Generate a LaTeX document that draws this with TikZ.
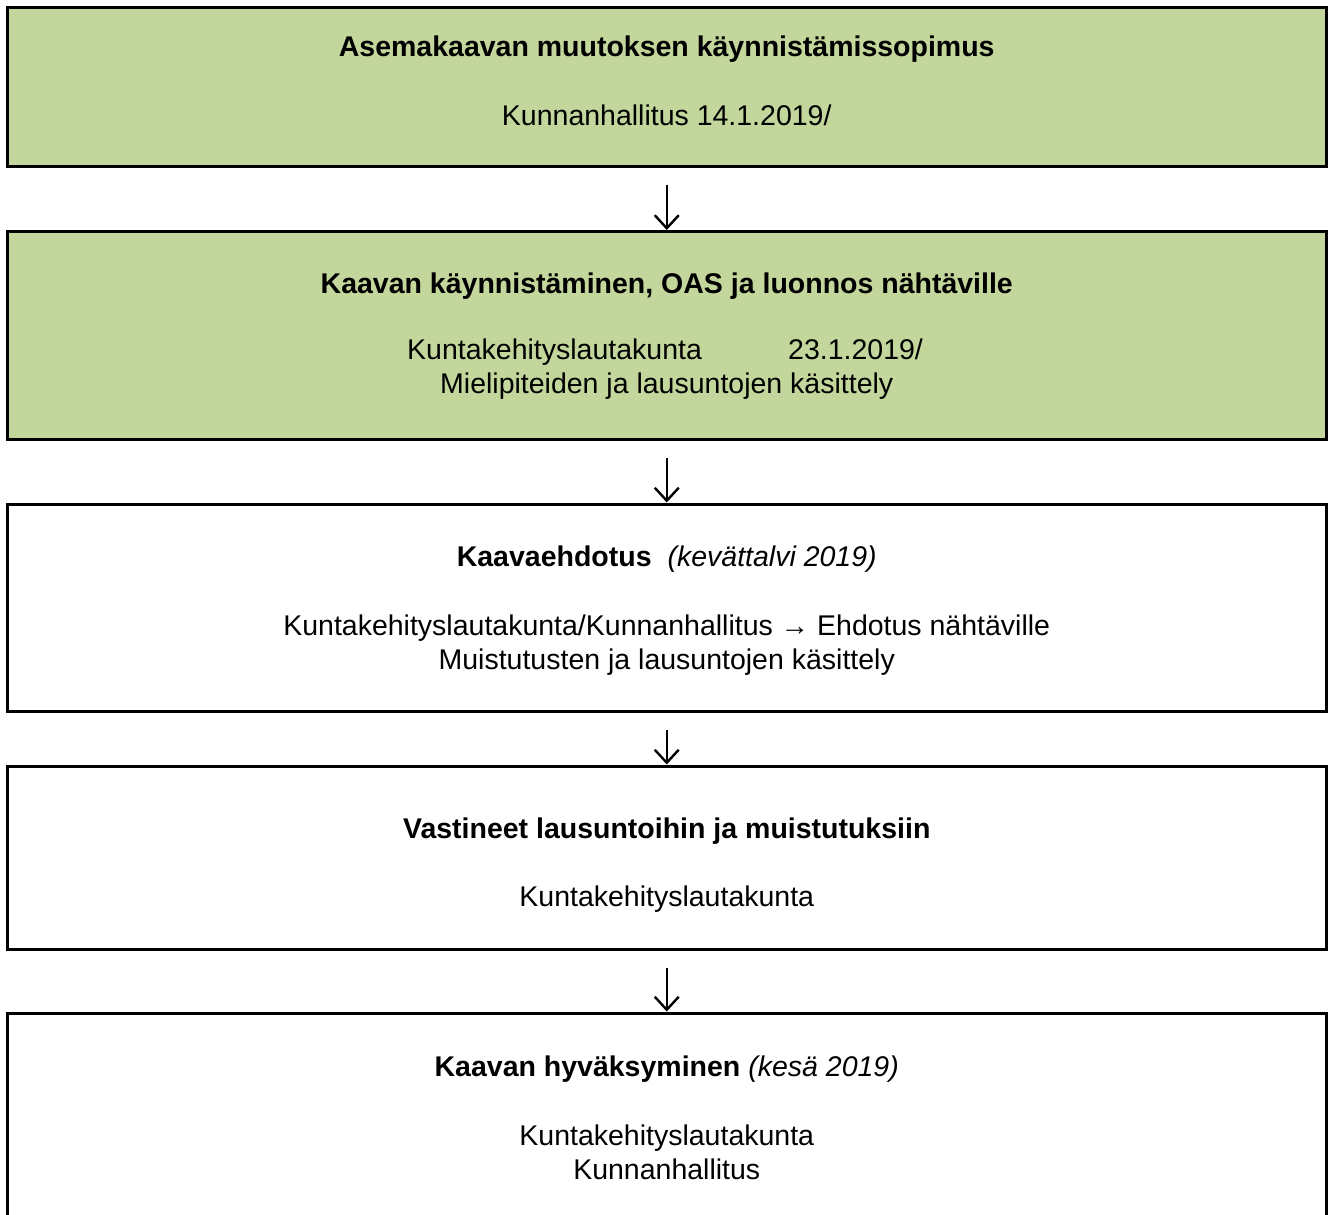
\documentclass[tikz,border=0pt]{standalone}
\usepackage{fontspec}
\setmainfont{Liberation Sans}
\usetikzlibrary{arrows.meta}
\definecolor{boxgreen}{HTML}{C3D69B}
\tikzset{
  stagebox/.style={draw=black, line width=3pt, minimum width=1318.5pt, inner sep=0pt},
  greenbox/.style={stagebox, fill=boxgreen},
  plainbox/.style={stagebox, fill=white},
  txt/.style={anchor=base, inner sep=0pt, font=\fontsize{28.5pt}{34pt}\selectfont},
  txtl/.style={anchor=base west, inner sep=0pt, font=\fontsize{28.5pt}{34pt}\selectfont},
  flow/.style={line width=2.4pt, -{Straight Barb[length=13pt,width=24pt,line width=2.4pt]}}
}
\begin{document}
\begin{tikzpicture}[x=1pt,y=-1pt]
\useasboundingbox (0,0) rectangle (1328,1215);
\fill[white] (0,0) rectangle (1328,1215);
\clip (0,0) rectangle (1328,1215);
% boxes
\node[greenbox, minimum height=158.5pt] (b1) at (666.75,86.75) {};
\node[greenbox, minimum height=207.5pt] (b2) at (666.75,335.25) {};
\node[plainbox, minimum height=207pt] (b3) at (666.75,607.5) {};
\node[plainbox, minimum height=183pt] (b4) at (666.75,857.5) {};
\node[plainbox, minimum height=240pt] (b5) at (666.75,1133) {};
% texts
\node[txt] (t1a) at (666.75,57) {\bfseries Asemakaavan muutoksen käynnistämissopimus};
\node[txt] (t1b) at (666.75,125) {Kunnanhallitus 14.1.2019/};
\node[txt] (t2a) at (666.75,293) {\bfseries Kaavan käynnistäminen, OAS ja luonnos nähtäville};
\node[txtl] (t2b) at (407,359) {Kuntakehityslautakunta};
\node[txtl] (t2c) at (788,359) {23.1.2019/};
\node[txt] (t2d) at (666.75,393) {Mielipiteiden ja lausuntojen käsittely};
\node[txt] (t3a) at (666.75,566) {\bfseries Kaavaehdotus\hspace{16pt}\itshape\mdseries(kevättalvi 2019)};
\node[txt] (t3b) at (666.75,635) {Kuntakehityslautakunta/Kunnanhallitus → Ehdotus nähtäville};
\node[txt] (t3c) at (666.75,669) {Muistutusten ja lausuntojen käsittely};
\node[txt] (t4a) at (666.75,838) {\bfseries Vastineet lausuntoihin ja muistutuksiin};
\node[txt] (t4b) at (666.75,906) {Kuntakehityslautakunta};
\node[txt] (t5a) at (666.75,1076) {\bfseries Kaavan hyväksyminen {\itshape\mdseries(kesä 2019)}};
\node[txt] (t5b) at (666.75,1145) {Kuntakehityslautakunta};
\node[txt] (t5c) at (666.75,1179) {Kunnanhallitus};
% arrows
\draw[flow] ([yshift=-17pt]b1.south) -- (b2.north);
\draw[flow] ([yshift=-17pt]b2.south) -- (b3.north);
\draw[flow] ([yshift=-17pt]b3.south) -- (b4.north);
\draw[flow] ([yshift=-17pt]b4.south) -- (b5.north);
\end{tikzpicture}
\end{document}
